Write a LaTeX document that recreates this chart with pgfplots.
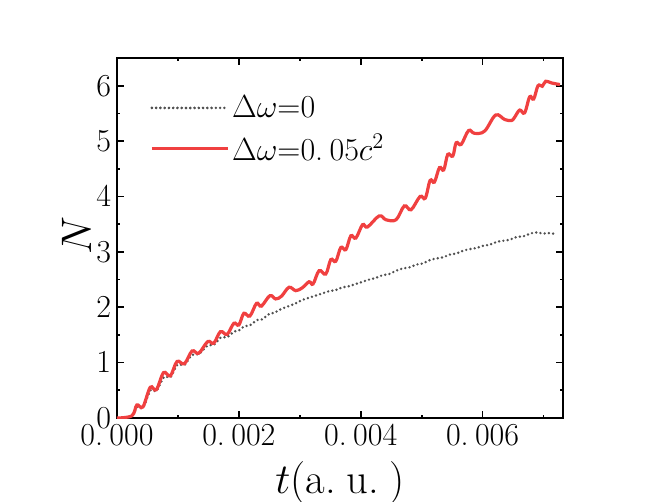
\RequirePackage{fix-cm}
\documentclass[border=0pt]{standalone}
\usepackage{fontspec}
\usepackage{pgfplots}
\pgfplotsset{compat=1.18}
\definecolor{redline}{RGB}{240,64,64}
\definecolor{grayline}{RGB}{80,80,80}
\begin{document}
\begin{tikzpicture}
\begin{axis}[
    at={(0pt,0pt)}, anchor=south west,
    scale only axis,
    width=334.5pt, height=270pt,
    xmin=0, xmax=0.00732,
    ymin=0, ymax=6.5,
    xtick={0,0.002,0.004,0.006},
    xticklabels={0.\hspace{0.2em}000,0.\hspace{0.2em}002,0.\hspace{0.2em}004,0.\hspace{0.2em}006},
    scaled x ticks=false,
    minor xtick={0.001,0.003,0.005,0.007},
    ytick={0,1,2,3,4,5,6},
    minor ytick={0.5,1.5,2.5,3.5,4.5,5.5,6.5},
    tick align=inside,
    major tick length=5pt,
    minor tick length=2.5pt,
    every tick/.style={black, line width=1.3pt},
    axis line style={line width=1.5pt},
    tick label style={font=\fontsize{24}{28}\selectfont},
    xticklabel style={yshift=-1pt},
    yticklabel style={xshift=-1pt},
    xlabel={$t$(a.\hspace{0.25em}u.\hspace{0.25em})},
    ylabel={$N$},
    label style={font=\fontsize{32}{38}\selectfont},
    xlabel style={yshift=-5pt},
    ylabel style={yshift=-3pt, xshift=2pt},
    legend style={at={(0.065,0.91)}, anchor=north west, draw=none, fill=none,
        font=\fontsize{24}{28}\selectfont, row sep=7pt},
    legend cell align=left,
    legend image code/.code={\draw[#1] (0pt,0pt) -- (46pt,0pt); \path (0pt,0pt) -- (57pt,0pt);},
]
\addplot[grayline, line width=2pt, line cap=round, dash pattern=on 0pt off 3.2pt, smooth, tension=0.5]
coordinates {
(0,0) (0.00024,0.03) (0.00033,0.20) (0.00043,0.19) (0.00055,0.50) (0.00065,0.49)
(0.00077,0.74) (0.00088,0.74) (0.00099,0.96) (0.00111,0.96) (0.00123,1.14) (0.00134,1.15)
(0.00149,1.31) (0.00159,1.32) (0.00170,1.45) (0.00181,1.46) (0.00192,1.56) (0.00200,1.58)
(0.00208,1.65) (0.00219,1.68) (0.00230,1.77) (0.00238,1.78) (0.00250,1.88) (0.00258,1.90)
(0.00270,1.97) (0.00282,2.02) (0.00293,2.07) (0.00304,2.13) (0.00315,2.17) (0.00326,2.21)
(0.00337,2.25) (0.00348,2.29) (0.00359,2.31) (0.00370,2.36) (0.00381,2.38) (0.00392,2.42)
(0.00403,2.46) (0.00414,2.50) (0.00425,2.53) (0.00436,2.58) (0.00447,2.60) (0.00458,2.66)
(0.00469,2.70) (0.00480,2.72) (0.00491,2.77) (0.00502,2.79) (0.00513,2.85) (0.00524,2.88)
(0.00535,2.90) (0.00546,2.95) (0.00557,2.97) (0.00568,3.02) (0.00579,3.05) (0.00590,3.07)
(0.00601,3.11) (0.00612,3.13) (0.00623,3.18) (0.00634,3.20) (0.00645,3.22) (0.00656,3.27)
(0.00667,3.28) (0.00678,3.33) (0.00689,3.35) (0.00700,3.33) (0.00710,3.34) (0.00720,3.32)
};
\addlegendentry{$\Delta\omega$=0}
\addplot[redline, line width=2.4pt, smooth, tension=0.6]
coordinates {
(0,0) (0.000244,0.04) (0.000326,0.235) (0.000425,0.20) (0.000546,0.555) (0.000645,0.51)
(0.000765,0.82) (0.000875,0.76) (0.000985,1.02) (0.001106,0.98) (0.001232,1.21) (0.001341,1.17)
(0.00149,1.38) (0.001588,1.35) (0.001698,1.56) (0.001807,1.51) (0.001918,1.71) (0.00200,1.68)
(0.002082,1.89) (0.00218,1.84) (0.00229,2.07) (0.00237,2.02) (0.00251,2.21) (0.002604,2.15)
(0.00270,2.20) (0.002823,2.36) (0.002933,2.30) (0.00304,2.35) (0.003152,2.46) (0.003218,2.42)
(0.003317,2.66) (0.003427,2.60) (0.003509,2.86) (0.003591,2.83) (0.003674,3.08) (0.003756,3.04)
(0.003838,3.29) (0.003921,3.25) (0.00403,3.49) (0.004112,3.45) (0.004304,3.65) (0.004414,3.58)
(0.00458,3.58) (0.004716,3.83) (0.004826,3.76) (0.004974,4.00) (0.00506,3.97) (0.005139,4.29)
(0.00521,4.26) (0.005292,4.52) (0.005363,4.48) (0.005429,4.76) (0.005511,4.73) (0.005567,4.97)
(0.005649,4.94) (0.00577,5.19) (0.005868,5.14) (0.006033,5.18) (0.006214,5.47) (0.006362,5.39)
(0.006472,5.37) (0.00652,5.42) (0.006609,5.56) (0.00669,5.51) (0.006773,5.80) (0.006839,5.76)
(0.00691,6.00) (0.00698,5.99) (0.007036,6.08) (0.00713,6.05) (0.00727,6.02)
};
\addlegendentry{$\Delta\omega$=0.\hspace{0.2em}05$c^2$}
\end{axis}
\pgfresetboundingbox
\useasboundingbox (-87.75pt,-62.25pt) rectangle (402.75pt,313.5pt);
\end{tikzpicture}
\end{document}
